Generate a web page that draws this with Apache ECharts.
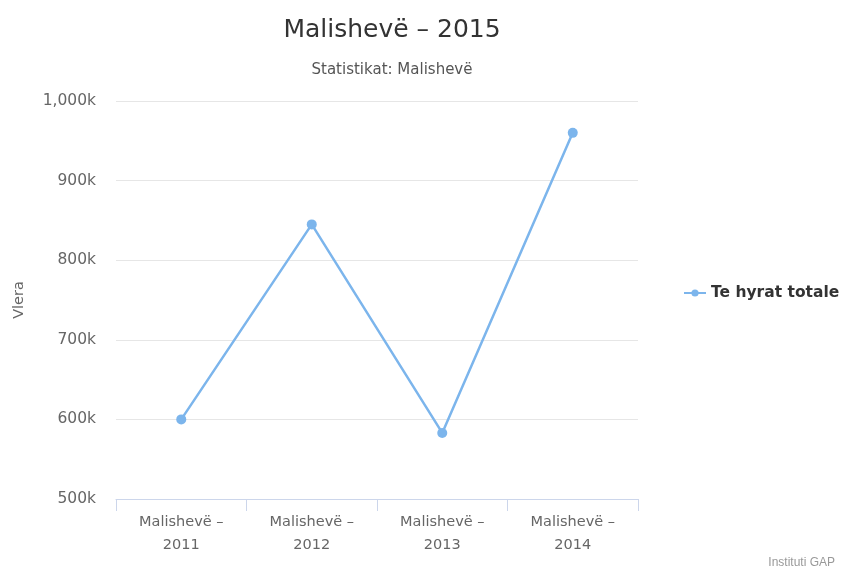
<!DOCTYPE html>
<html>
<head>
<meta charset="utf-8">
<script src="https://cdn.jsdelivr.net/npm/echarts@6/dist/echarts.min.js"></script>
<style>
  html, body { margin: 0; padding: 0; background: #fff; }
  #main { width: 842px; height: 574px; }
</style>
</head>
<body>
<div id="main"></div>
<script>
const categories = ["Malishevë –\n2011", "Malishevë –\n2012", "Malishevë –\n2013", "Malishevë –\n2014"];
const totalIncome = [600000, 845000, 583000, 960000];
const seriesName = "Te hyrat totale";

const chart = echarts.init(document.getElementById("main"));
chart.setOption({
  backgroundColor: "#fff",
  textStyle: { fontFamily: "DejaVu Sans" },
  title: {
    text: "Malishevë – 2015",
    subtext: "Statistikat: Malishevë",
    left: 387,
    top: 13,
    textAlign: "center",
    itemGap: 20,
    textStyle: { fontSize: 25, fontWeight: "normal", color: "#333" },
    subtextStyle: { fontSize: 15, color: "#555" }
  },
  legend: {
    orient: "vertical",
    left: 678,
    top: 280,
    itemWidth: 22,
    itemHeight: 9,
    itemGap: 6,
    data: [seriesName],
    textStyle: { fontSize: 15.5, fontWeight: "bold", color: "#333" }
  },
  grid: { left: 116, right: 204, top: 101, bottom: 75 },
  xAxis: {
    type: "category",
    data: categories,
    boundaryGap: true,
    axisLine: { lineStyle: { color: "#ccd6eb" } },
    axisTick: { show: true, length: 12, lineStyle: { color: "#ccd6eb" } },
    axisLabel: { color: "#666", fontSize: 14.5, lineHeight: 23, margin: 12 }
  },
  yAxis: {
    type: "value",
    min: 500000,
    max: 1000000,
    interval: 100000,
    name: "Vlera",
    nameLocation: "middle",
    nameGap: 89,
    nameTextStyle: { color: "#666", fontSize: 14.5 },
    axisLine: { show: false },
    axisTick: { show: false },
    axisLabel: {
      color: "#666",
      fontSize: 15.5,
      margin: 20,
      formatter: function (v) {
        return (v / 1000).toLocaleString("en-US") + "k";
      }
    },
    splitLine: { lineStyle: { color: "#e6e6e6" } }
  },
  series: [{
    name: seriesName,
    type: "line",
    data: totalIncome,
    symbol: "circle",
    symbolSize: 10,
    lineStyle: { color: "#7cb5ec", width: 2.5 },
    itemStyle: { color: "#7cb5ec" }
  }],
  graphic: [{
    type: "text",
    right: 7,
    bottom: 5,
    style: { text: "Instituti GAP", fill: "#999", fontSize: 12 }
  }]
});
</script>
</body>
</html>
